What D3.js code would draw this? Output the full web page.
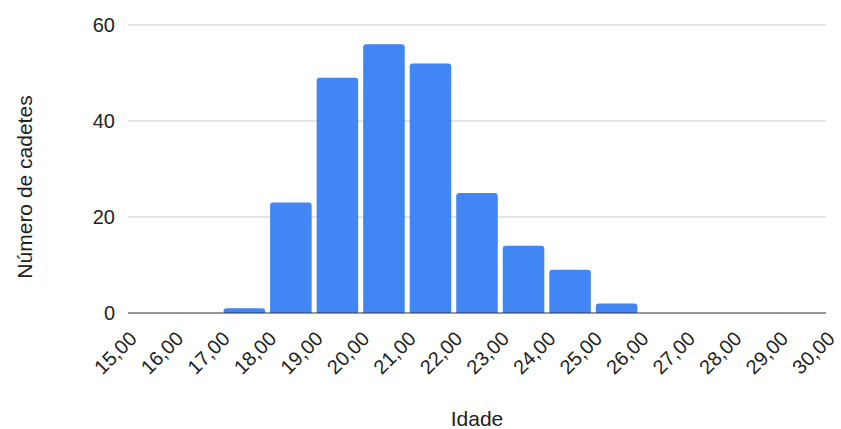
<!DOCTYPE html>
<html>
<head>
<meta charset="utf-8">
<script src="https://cdn.jsdelivr.net/npm/d3@7"></script>
<style>
  html, body { margin: 0; padding: 0; background: #fff; }
  svg { display: block; font-family: "Liberation Sans", Arial, sans-serif; }
</style>
</head>
<body>
<svg id="chart" width="841" height="429"></svg>
<script>
// Age distribution of cadets: one bin per year, from 15 to 30
const binStarts = [15, 16, 17, 18, 19, 20, 21, 22, 23, 24, 25, 26, 27, 28, 29];
const counts    = [0, 0, 1, 23, 49, 56, 52, 25, 14, 9, 2, 0, 0, 0, 0];
const xTicks = [15, 16, 17, 18, 19, 20, 21, 22, 23, 24, 25, 26, 27, 28, 29, 30];
const yTicks = [0, 20, 40, 60];
const xTitle = "Idade";
const yTitle = "Número de cadetes";

const svg = d3.select("#chart");
const margin = { left: 128, right: 15, top: 25, bottom: 116 };
const W = 841, H = 429;

const x = d3.scaleLinear().domain([15, 30]).range([margin.left, W - margin.right]);
const y = d3.scaleLinear().domain([0, 60]).range([H - margin.bottom, margin.top]);

// horizontal gridlines
svg.append("g").selectAll("line")
  .data(yTicks.filter(d => d !== 0))
  .join("line")
  .attr("x1", x(15)).attr("x2", x(30))
  .attr("y1", d => y(d)).attr("y2", d => y(d))
  .attr("stroke", "#cccccc").attr("stroke-width", 1);

// y tick labels
svg.append("g").selectAll("text")
  .data(yTicks)
  .join("text")
  .attr("x", x(15) - 13)
  .attr("y", d => y(d))
  .attr("dy", "0.36em")
  .attr("text-anchor", "end")
  .attr("font-size", 20)
  .attr("fill", "#222")
  .text(d => d);

// bars with slightly rounded top corners
const gap = 2.5, r = 3;
const bars = binStarts.map((s, i) => ({ s, v: counts[i] })).filter(d => d.v > 0);
svg.append("g").selectAll("path")
  .data(bars)
  .join("path")
  .attr("fill", "#4285f4")
  .attr("d", d => {
    const x0 = x(d.s) + gap, x1 = x(d.s + 1) - gap;
    const y0 = y(0), y1 = y(d.v);
    const rr = Math.min(r, (y0 - y1));
    return `M${x0},${y0}V${y1 + rr}Q${x0},${y1} ${x0 + rr},${y1}H${x1 - rr}Q${x1},${y1} ${x1},${y1 + rr}V${y0}Z`;
  });

// baseline
svg.append("line")
  .attr("x1", x(15)).attr("x2", x(30))
  .attr("y1", y(0)).attr("y2", y(0))
  .attr("stroke", "#333").attr("stroke-width", 1.2);

// x tick labels, rotated
const fmt = d => d.toFixed(2).replace(".", ",");
svg.append("g").selectAll("text")
  .data(xTicks)
  .join("text")
  .attr("transform", d => `translate(${x(d) + 10},${y(0) + 27}) rotate(-45)`)
  .attr("text-anchor", "end")
  .attr("font-size", 20)
  .attr("fill", "#222")
  .text(fmt);

// axis titles
svg.append("text")
  .attr("x", (x(15) + x(30)) / 2)
  .attr("y", 426)
  .attr("text-anchor", "middle")
  .attr("font-size", 21)
  .attr("fill", "#222")
  .text(xTitle);

svg.append("text")
  .attr("transform", `translate(32,187) rotate(-90)`)
  .attr("text-anchor", "middle")
  .attr("font-size", 21)
  .attr("fill", "#222")
  .text(yTitle);
</script>
</body>
</html>
